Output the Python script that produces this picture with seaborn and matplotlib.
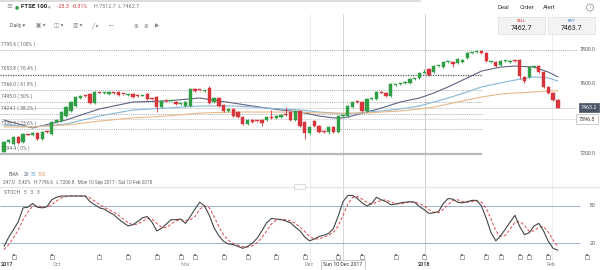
import matplotlib
matplotlib.use("Agg")
import matplotlib.pyplot as plt
from matplotlib.lines import Line2D
from matplotlib.patches import FancyBboxPatch, Rectangle, Ellipse
import matplotlib.transforms as mtrans
import numpy as np
import pandas as pd
import seaborn as sns

# ---------------- data ----------------
opens = [7206, 7264, 7252, 7293, 7264, 7310, 7304, 7316, 7281, 7322,
         7310, 7380, 7385, 7414, 7443, 7472, 7518, 7530, 7541, 7489,
         7550, 7547, 7541, 7548, 7553, 7541, 7535, 7541, 7530, 7530,
         7541, 7512, 7524, 7466, 7501, 7501, 7495, 7483, 7472, 7472,
         7570, 7564, 7559, 7576, 7495, 7518, 7478, 7443, 7455, 7437,
         7408, 7368, 7391, 7385, 7391, 7391, 7408, 7403, 7408, 7420,
         7437, 7391, 7443, 7380, 7316, 7385, 7356, 7322, 7322, 7351,
         7322, 7414, 7414, 7466, 7495, 7495, 7443, 7512, 7512, 7550,
         7547, 7530, 7593, 7599, 7605, 7605, 7628, 7634, 7663, 7686,
         7668, 7703, 7697, 7726, 7726, 7720, 7726, 7749, 7778, 7784,
         7790, 7778, 7726, 7726, 7709, 7732, 7726, 7732, 7738, 7640,
         7640, 7697, 7703, 7668, 7582, 7547, 7507]
highs = [7270, 7282, 7300, 7298, 7316, 7312, 7320, 7322, 7327, 7325,
         7386, 7395, 7443, 7472, 7500, 7530, 7536, 7533, 7547, 7560,
         7553, 7553, 7558, 7550, 7558, 7544, 7540, 7547, 7533, 7533,
         7546, 7515, 7530, 7507, 7504, 7505, 7500, 7492, 7500, 7576,
         7576, 7567, 7566, 7588, 7524, 7524, 7484, 7458, 7460, 7443,
         7414, 7397, 7397, 7388, 7397, 7414, 7449, 7420, 7426, 7466,
         7443, 7449, 7449, 7386, 7357, 7390, 7362, 7326, 7357, 7357,
         7420, 7418, 7478, 7501, 7498, 7501, 7518, 7516, 7559, 7556,
         7553, 7605, 7597, 7603, 7616, 7634, 7631, 7668, 7686, 7692,
         7709, 7706, 7732, 7729, 7732, 7749, 7744, 7784, 7781, 7787,
         7796, 7784, 7729, 7732, 7738, 7735, 7738, 7735, 7744, 7645,
         7703, 7700, 7709, 7674, 7588, 7553, 7513]
lows = [7207, 7258, 7246, 7252, 7258, 7303, 7296, 7276, 7275, 7318,
        7305, 7376, 7380, 7408, 7437, 7466, 7512, 7525, 7484, 7483,
        7545, 7544, 7536, 7543, 7530, 7537, 7531, 7518, 7526, 7527,
        7507, 7508, 7437, 7460, 7497, 7498, 7478, 7478, 7466, 7466,
        7553, 7561, 7553, 7484, 7489, 7466, 7437, 7440, 7408, 7402,
        7362, 7362, 7374, 7382, 7356, 7385, 7397, 7397, 7403, 7417,
        7385, 7385, 7350, 7281, 7305, 7350, 7316, 7318, 7310, 7316,
        7316, 7410, 7408, 7460, 7492, 7437, 7437, 7509, 7506, 7545,
        7524, 7524, 7590, 7596, 7600, 7600, 7625, 7628, 7660, 7645,
        7662, 7700, 7692, 7723, 7697, 7714, 7720, 7744, 7775, 7781,
        7772, 7726, 7723, 7697, 7703, 7729, 7720, 7729, 7628, 7605,
        7634, 7694, 7662, 7576, 7541, 7501, 7462]
closes = [7264, 7275, 7293, 7258, 7310, 7305, 7316, 7281, 7322, 7320,
          7380, 7391, 7437, 7466, 7495, 7524, 7530, 7528, 7489, 7553,
          7547, 7550, 7553, 7546, 7535, 7540, 7536, 7524, 7529, 7531,
          7512, 7511, 7466, 7501, 7500, 7502, 7483, 7489, 7495, 7570,
          7559, 7563, 7564, 7489, 7518, 7472, 7443, 7455, 7414, 7408,
          7368, 7391, 7380, 7384, 7374, 7408, 7403, 7414, 7420, 7419,
          7391, 7443, 7356, 7316, 7351, 7356, 7322, 7321, 7351, 7322,
          7414, 7415, 7472, 7495, 7494, 7443, 7512, 7513, 7553, 7547,
          7530, 7599, 7594, 7600, 7611, 7628, 7629, 7663, 7664, 7651,
          7703, 7704, 7726, 7727, 7715, 7744, 7738, 7778, 7779, 7785,
          7778, 7732, 7727, 7703, 7732, 7733, 7732, 7731, 7645, 7616,
          7697, 7698, 7668, 7582, 7547, 7507, 7463]

ema_idx = [0, 6, 13, 20, 27, 34, 41, 48, 52, 55, 58, 62, 66, 69, 71, 72, 76,
           79, 83, 87, 90, 93, 97, 100, 104, 107, 111, 114, 116]
ema20 = [7391, 7345, 7391, 7455, 7495, 7501, 7518, 7489, 7472, 7460, 7449,
         7437, 7414, 7403, 7403, 7408, 7437, 7460, 7495, 7518, 7547, 7582,
         7634, 7674, 7697, 7703, 7697, 7668, 7640]
ema50 = [7362, 7351, 7368, 7414, 7449, 7460, 7472, 7472, 7466, 7460, 7455,
         7449, 7437, 7431, 7426, 7426, 7437, 7443, 7455, 7472, 7495, 7518,
         7553, 7582, 7605, 7622, 7640, 7634, 7616]
ema100 = [7351, 7351, 7362, 7385, 7403, 7414, 7431, 7437, 7437, 7437, 7437,
          7437, 7431, 7431, 7431, 7431, 7431, 7437, 7443, 7455, 7466, 7483,
          7507, 7524, 7541, 7547, 7553, 7559, 7559]

stoch_k = [15, 30, 42, 55, 77, 78, 84, 78, 77, 79,
           90, 94, 96, 96, 96, 96, 96, 96, 87, 82,
           77, 75, 70, 66, 59, 53, 48, 50, 55, 61,
           63, 54, 40, 44, 51, 58, 58, 59, 52, 63,
           75, 86, 80, 65, 45, 32, 23, 19, 18, 15,
           12, 15, 20, 28, 40, 53, 60, 59, 58, 56,
           53, 46, 40, 30, 24, 27, 31, 33, 36, 44,
           64, 87, 97, 97, 92, 85, 80, 84, 94, 90,
           87, 82, 83, 85, 86, 87, 86, 79, 74, 68,
           69, 71, 84, 92, 91, 86, 85, 87, 89, 89,
           80, 60, 37, 24, 32, 43, 54, 65, 47, 34,
           37, 48, 52, 40, 23, 12, 9]
stoch_d = [10, 18, 29, 42, 58, 70, 80, 80, 79, 78,
           82, 88, 93, 95, 96, 96, 96, 96, 93, 88,
           82, 78, 74, 70, 65, 59, 53, 50, 51, 55,
           60, 59, 52, 46, 45, 51, 56, 58, 56, 58,
           63, 75, 80, 77, 63, 47, 33, 25, 20, 17,
           15, 14, 16, 21, 29, 40, 51, 57, 59, 58,
           56, 52, 46, 39, 31, 27, 27, 30, 33, 38,
           48, 65, 83, 94, 95, 91, 86, 83, 86, 89,
           90, 86, 84, 83, 85, 86, 86, 84, 80, 74,
           70, 69, 75, 82, 89, 90, 87, 86, 87, 88,
           86, 76, 59, 40, 31, 33, 43, 54, 55, 49,
           39, 40, 46, 47, 38, 25, 15]

fib_levels = [7795.6, 7653.8, 7566.0, 7495.0, 7424.1, 7336.3, 7194.4]
fib_pcts = ["100%", "76.4%", "61.8%", "50%", "38.2%", "23.6%", "0%"]
price_ticks = [7800.0, 7600.0, 7400.0, 7200.0]
stoch_levels = [80, 20]
last_price = 7463.2
cross_price = 7396.5
cross_idx = 71
cross_label = "Sun 10 Dec 2017"
month_idx = [0.6, 11, 38, 64, 88, 114.6]
month_labels = ["2017", "Oct", "Nov", "Dec", "2018", "Feb"]
event_idx = [2, 10, 20, 26, 32, 37, 40, 46, 51, 57, 63, 70, 75, 82, 88, 96,
             101, 104, 108, 110, 114, 122]

# ---------------- style ----------------
sns.set_theme(style="white")
plt.rcParams['font.family'] = ['Roboto', 'DejaVu Sans']

W, H = 600, 270
GREEN, RED = "#2f9e44", "#d7343b"
C20, C50, C100 = "#5f6384", "#86b7d6", "#eab887"

fig = plt.figure(figsize=(6, 2.7), dpi=100)
fig.patch.set_facecolor("white")

STEP, X0 = 4.775, 4.0


def xi(px):
    return (px - X0) / STEP


def box(top, bot):
    return [0, 1 - bot / H, 1, (bot - top) / H]


def T(x, y, s, **kw):
    kw.setdefault("va", "center")
    kw.setdefault("ha", "left")
    return fig.text(x / W, 1 - y / H, s, **kw)


ax = fig.add_axes(box(38, 187))
ax2 = fig.add_axes(box(187, 261))
for a in (ax, ax2):
    a.set_xlim(xi(0), xi(600))
    a.set_facecolor("none")
    a.axis("off")
ax.set_ylim(7003.7, 7865.0)
ax2.set_ylim(-8.4, 110.5)

# vertical guide lines (year 2018 line, month lines, crosshair)
for px, col in [(310, "#ececec"), (425, "#cfcfcf"), (552, "#ececec"), (343, "#d6d6d6")]:
    fig.add_artist(Line2D([px / W, px / W], [1 - 14 / H, 1 - 261 / H],
                          transform=fig.transFigure, color=col, lw=0.7, zorder=0))

# ---------------- price panel ----------------
xr = xi(482)
for lvl, pct in zip(fib_levels, fib_pcts):
    if pct == "0%":
        ax.hlines(lvl, xi(0), xr, color="#b9b9b9", lw=1.6, zorder=1)
    elif pct == "76.4%":
        ax.hlines(lvl, xi(0), xr, color="#555555", lw=0.9, linestyles=(0, (1, 1)), zorder=1)
    elif pct == "100%":
        ax.hlines(lvl, xi(0), xi(577), color="#a8a8a8", lw=0.7, linestyles=(0, (1, 1.2)), zorder=1)
    else:
        ax.hlines(lvl, xi(0), xr, color="#a8a8a8", lw=0.7, linestyles=(0, (1, 1.2)), zorder=1)
    ax.annotate(f"{lvl:.1f} ( {pct} )", xy=(xi(1), lvl), xytext=(0, 2.2),
                textcoords="offset points", fontsize=3.5, color="#666666",
                ha="left", va="bottom", annotation_clip=False)

ax.hlines(last_price, xi(0), xi(576), color="#cfcfcf", lw=0.5, zorder=1)
ax.hlines(cross_price, xi(0), xi(576), color="#d6d6d6", lw=0.5, zorder=1)

ema_df = pd.DataFrame({"idx": ema_idx, "EMA 20": ema20, "EMA 50": ema50,
                       "EMA 100": ema100}).melt("idx", var_name="ema", value_name="price")
sns.lineplot(data=ema_df, x="idx", y="price", hue="ema",
             palette={"EMA 20": C20, "EMA 50": C50, "EMA 100": C100},
             ax=ax, lw=0.8, legend=False, estimator=None, sort=False, zorder=2)

idx = np.arange(len(closes))
o, hi, lo, c = (np.array(v, dtype=float) for v in (opens, highs, lows, closes))
cols = np.where(c >= o, GREEN, RED)
ax.vlines(idx, lo, hi, colors=cols, lw=0.6, zorder=3)
ax.bar(idx, np.maximum(np.abs(c - o), 5.0), bottom=np.minimum(o, c), width=0.7,
       color=cols, edgecolor=cols, lw=0.3, zorder=4)
ax.set_xlim(xi(0), xi(600))
ax.set_ylim(7003.7, 7865.0)

for p in price_ticks:
    ax.text(xi(588), p, f"{p:.1f}", fontsize=3.8, color="#555555", ha="center", va="center")
ax.text(xi(589), last_price, f"{last_price:.1f}", fontsize=3.8, color="white",
        ha="center", va="center", zorder=6,
        bbox=dict(boxstyle="square,pad=0.35", fc="#4a5766", ec="#4a5766", lw=0.5))
ax.text(xi(587), cross_price, f"{cross_price:.1f}", fontsize=3.8, color="#333333",
        ha="center", va="center", zorder=6,
        bbox=dict(boxstyle="square,pad=0.45", fc="white", ec="#b8b8b8", lw=0.5))

# ---------------- stochastic panel ----------------
ax2.axhline(110.2, color="#e2e2e2", lw=0.9)
ax2.hlines(stoch_levels, xi(0), xi(580), color="#8ea7c6", lw=0.6)
for lv in stoch_levels:
    ax2.text(xi(593), lv, f"{lv}", fontsize=3.8, color="#555555", ha="center", va="center")
st = pd.DataFrame({"idx": idx, "K": stoch_k, "D": stoch_d})
sns.lineplot(data=st, x="idx", y="D", ax=ax2, color="#e0474c", lw=0.7,
             linestyle=(0, (3, 2)), estimator=None)
sns.lineplot(data=st, x="idx", y="K", ax=ax2, color="#454545", lw=0.8, estimator=None)
ax2.set_xlim(xi(0), xi(600))
ax2.set_ylim(-8.4, 110.5)
ax2.axis("off")

trans_ev = mtrans.blended_transform_factory(ax2.transData, ax2.transAxes)
ax2.scatter(event_idx, [0.055] * len(event_idx), transform=trans_ev, marker="s",
            s=7, facecolor="white", edgecolor="#8a8a8a", lw=0.5, zorder=5, clip_on=False)
ax2.scatter(event_idx, [0.085] * len(event_idx), transform=trans_ev, marker="s",
            s=2.0, facecolor="#777777", edgecolor="none", zorder=6, clip_on=False)

# handle on stoch divider
fig.add_artist(FancyBboxPatch((295 / W, 1 - 189 / H), 10 / W, 4 / H,
                              boxstyle="round,pad=0.001", transform=fig.transFigure,
                              fc="white", ec="#c8c8c8", lw=0.5))

# x labels
trans_x = mtrans.blended_transform_factory(ax2.transData, fig.transFigure)
for mi, ml in zip(month_idx, month_labels):
    bold = ml.isdigit()
    ax2.text(mi, 1 - 265 / H, ml, transform=trans_x, fontsize=3.9,
             color="#444444" if bold else "#888888",
             fontweight="bold" if bold else "normal", ha="center", va="center")
ax2.text(cross_idx, 1 - 265 / H, cross_label, transform=trans_x, fontsize=3.8,
         color="#333333", ha="center", va="center", zorder=7,
         bbox=dict(boxstyle="square,pad=0.4", fc="white", ec="#b5b5b5", lw=0.5))

# ---------------- info texts ----------------
T(9, 174, "EMA", fontsize=3.6, color="#666666")
T(24, 174, "20", fontsize=3.6, color=C20)
T(31, 174, "50", fontsize=3.6, color="#5fa0c8")
T(38, 174, "100", fontsize=3.6, color="#e3a060")
T(3, 182.5, "247.0   3.42%   H 7796.6   L 7206.8   Mon 10 Sep 2017 - Sat 10 Feb 2018",
  fontsize=3.4, color="#666666")
T(4, 193, "STOCH   5   3   3", fontsize=3.6, color="#666666")

# ---------------- header ----------------
fig.add_artist(Line2D([0, 420 / W], [1 - 0.8 / H, 1 - 0.8 / H], transform=fig.transFigure,
                      color="#d5d5d5", lw=1.2))
T(6, 7, "≡", fontsize=5, color="#888888")
T(15, 7, "●", fontsize=3.4, color="#2f9e44")
T(21, 7, "FTSE 100", fontsize=4.4, color="#222222", fontweight="bold")
T(48, 7.5, "▾", fontsize=3.6, color="#888888")
T(57, 7, "-23.3  -0.31%", fontsize=3.9, color="#d7343b")
T(94, 7, "H 7512.7  L 7462.7", fontsize=3.9, color="#777777")

T(10, 26, "Daily ▾", fontsize=3.8, color="#555555")
for px, g in [(36, "▣ ▾"), (54, "◫ ▾"), (73, "▥ ▾"), (91, "╱ ▾"), (109, "•••"),
              (133, "⊕"), (144, "⊕"), (155, "▶")]:
    T(px, 26, g, fontsize=4.0, color="#888888")

T(498, 7.5, "Deal", fontsize=4.3, color="#333333")
T(520, 7.5, "Order", fontsize=4.3, color="#333333")
T(543, 7.5, "Alert", fontsize=4.3, color="#333333")
# info icon: circle with an "i"
fig.add_artist(Ellipse((590 / W, 1 - 7.5 / H), 7 / W, 7 / H, transform=fig.transFigure,
                       fc="none", ec="#9a9a9a", lw=0.6))
T(590, 7.6, "i", fontsize=3.6, color="#9a9a9a", ha="center")

for x0, lab, lc, val in [(498, "SELL", "#d7343b", "7462.7"), (548, "BUY", "#3a7bd5", "7463.7")]:
    fig.add_artist(Rectangle((x0 / W, 1 - 34 / H), 47 / W, 17 / H, transform=fig.transFigure,
                             fc="#f3f3f3", ec="#dddddd", lw=0.5))
    T(x0 + 23.5, 21.5, lab, fontsize=3.1, color=lc, ha="center")
    T(x0 + 23.5, 28.5, val, fontsize=5.0, color="#222222", ha="center")

fig.savefig("out.png", dpi=100, facecolor="white")
